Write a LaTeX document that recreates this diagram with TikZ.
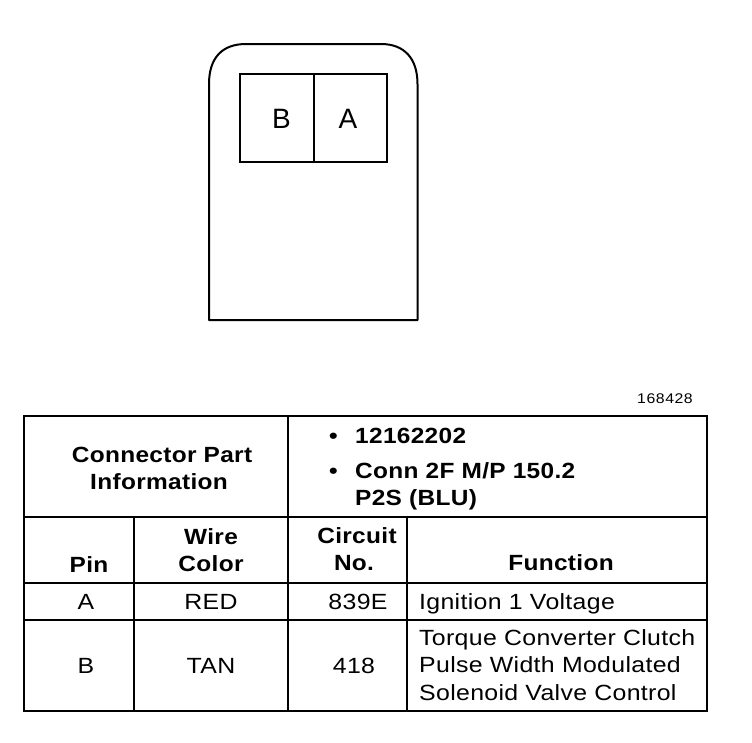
\documentclass[tikz,border=0pt]{standalone}
\usepackage{fontspec}
\setmainfont{Liberation Sans}
\newfontfamily\bodyfont[FakeStretch=1.13,LetterSpace=1.5]{Liberation Sans}
\newfontfamily\headfont[FakeStretch=1.11,LetterSpace=1.5]{Liberation Sans}
\newfontfamily\numfont[FakeStretch=1.13,LetterSpace=4]{Liberation Sans}
\tikzset{
 px/.style={x=1pt,y=-1pt},
 ln/.style={draw=black,line width=2pt},
 lab/.style={font=\fontsize{28}{32}\selectfont,anchor=base,inner sep=0},
 txt/.style={font=\bodyfont\fontsize{22}{27}\selectfont,anchor=base,inner sep=0,align=center},
 hd/.style={font=\headfont\fontsize{22}{27}\selectfont\bfseries,anchor=base,inner sep=0,align=center},
 tl/.style={font=\bodyfont\fontsize{22}{27}\selectfont,anchor=base west,inner sep=0,align=left},
 tlb/.style={font=\headfont\fontsize{22}{27}\selectfont\bfseries,anchor=base west,inner sep=0,align=left},
}
\begin{document}
\begin{tikzpicture}[px]
\useasboundingbox[fill=white] (0,0) rectangle (752,742);
% connector
\draw[ln,line join=round] (209,320) -- (209,84) .. controls (209,58) and (222,44) .. (246,44) -- (381,44) .. controls (404,44) and (417.5,58) .. (417.5,84) -- (417.5,320) -- cycle;
\draw[ln] (239.5,74) rectangle (386.5,161.5);
\draw[ln] (314,74) -- (314,161.5);
\node[lab] (pb) at (281.5,128) {B};
\node[lab] (pa) at (348,128) {A};
\node[font=\numfont\fontsize{14}{16}\selectfont,inner sep=0,anchor=base] (num) at (665,403) {168428};
% table
\draw[ln] (24,416) rectangle (707,710.5);
\draw[ln] (24,517) -- (707,517);
\draw[ln] (24,583) -- (707,583);
\draw[ln] (24,620) -- (707,620);
\draw[ln] (287.5,416) -- (287.5,710.5);
\draw[ln] (133.5,517) -- (133.5,710.5);
\draw[ln] (406.5,517) -- (406.5,710.5);
\node[hd] (cpi) at (162,462) {Connector Part};
\node[hd] (cpj) at (159,489) {Information};
\node[tlb] (d1) at (329,443) {•};
\node[tlb] (b1) at (355,443) {12162202};
\node[tlb] (d2) at (329,478) {•};
\node[tlb] (b2) at (355,478) {Conn 2F M/P 150.2};
\node[tlb] (b3) at (355,505) {P2S (BLU)};
\node[hd] (h1) at (89,572) {Pin};
\node[hd] (h2a) at (211,544) {Wire};
\node[hd] (h2b) at (211,571) {Color};
\node[hd] (h3a) at (357,543) {Circuit};
\node[hd] (h3b) at (354,570) {No.};
\node[hd] (h4) at (561,570) {Function};
\node[txt] (a1) at (86,609) {A};
\node[txt] (a2) at (211,609) {RED};
\node[txt] (a3) at (358,609) {839E};
\node[tl] (a4) at (419,609) {Ignition 1 Voltage};
\node[txt] (b1r) at (86,673) {B};
\node[txt] (b2r) at (211,673) {TAN};
\node[txt] (b3r) at (354,673) {418};
\node[tl] (b4a) at (419,645) {Torque Converter Clutch};
\node[tl] (b4b) at (419,672) {Pulse Width Modulated};
\node[tl] (b4c) at (419,700) {Solenoid Valve Control};
\end{tikzpicture}
\end{document}
